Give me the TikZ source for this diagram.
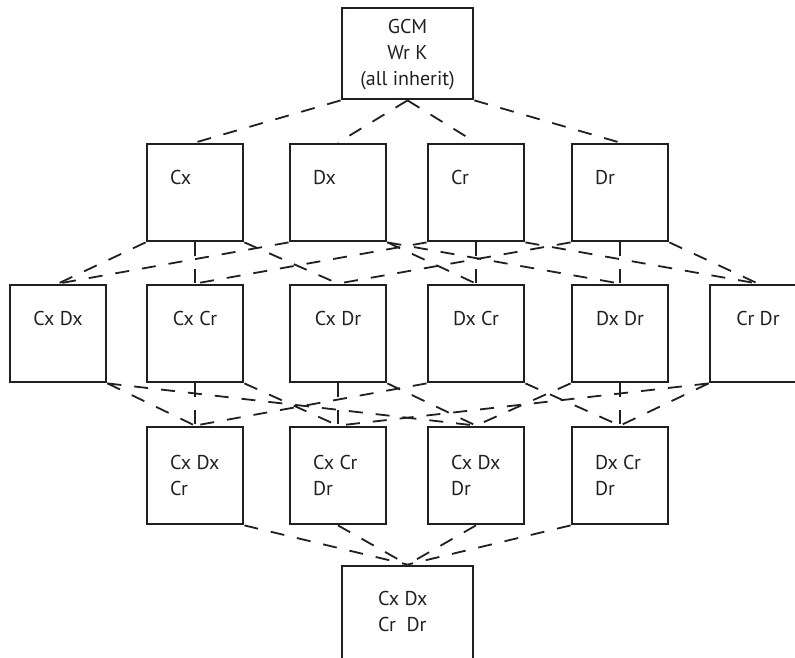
\documentclass[tikz,border=0pt]{standalone}
\usepackage{fontspec}
\setmainfont{PT Sans}
\begin{document}
\begin{tikzpicture}[x=1pt,y=1pt,
  setBox/.style={draw=drawColor,line width=2.8pt,rectangle,inner sep=0pt,
    minimum width=96pt,minimum height=97pt},
  wideBox/.style={setBox,minimum width=131pt,minimum height=91pt},
  setText/.style={text=drawColor,inner sep=0pt,outer sep=0pt,font=\fontsize{20}{26}\selectfont,align=left},
  subLink/.style={draw=drawColor,line width=1.8pt,dash pattern=on 14pt off 13pt}]
\definecolor{fillColor}{RGB}{255,255,255}
\definecolor{drawColor}{RGB}{35,31,32}
\path[use as bounding box,fill=fillColor] (0,0) rectangle (795,657);
\begin{scope}
\path[clip] (0,0) rectangle (795,657);

% boxes, top to bottom
\node[wideBox] (gcm) at (407.5,603.5) {};

\node[setBox] (cx) at (195,464.5) {};
\node[setBox] (dx) at (338,464.5) {};
\node[setBox] (cr) at (476,464.5) {};
\node[setBox] (dr) at (620,464.5) {};

\node[setBox] (cxdx) at ( 58,323.5) {};
\node[setBox] (cxcr) at (195,323.5) {};
\node[setBox] (cxdr) at (338,323.5) {};
\node[setBox] (dxcr) at (476,323.5) {};
\node[setBox] (dxdr) at (620,323.5) {};
\node[setBox] (crdr) at (758,323.5) {};

\node[setBox] (cxdxcr) at (195,181.5) {};
\node[setBox] (cxcrdr) at (338,181.5) {};
\node[setBox] (cxdxdr) at (476,181.5) {};
\node[setBox] (dxcrdr) at (620,181.5) {};

\node[wideBox,minimum height=96pt] (all) at (407.5,43) {};

% texts (base of a stacked text is its last line)
\node[setText,anchor=base,align=center] (gcm-txt) at (407.5,571) {GCM\\Wr K\\(all inherit)};

\node[setText,anchor=base west] (cx-txt) at (170,472) {Cx};
\node[setText,anchor=base west] (dx-txt) at (313,472) {Dx};
\node[setText,anchor=base west] (cr-txt) at (451,472) {Cr};
\node[setText,anchor=base west] (dr-txt) at (595,472) {Dr};

\node[setText,anchor=base] (cxdx-txt) at ( 58,332) {Cx Dx};
\node[setText,anchor=base] (cxcr-txt) at (195,332) {Cx Cr};
\node[setText,anchor=base] (cxdr-txt) at (338,332) {Cx Dr};
\node[setText,anchor=base] (dxcr-txt) at (476,332) {Dx Cr};
\node[setText,anchor=base] (dxdr-txt) at (620,332) {Dx Dr};
\node[setText,anchor=base] (crdr-txt) at (758,332) {Cr Dr};

\node[setText,anchor=base west] (cxdxcr-txt) at (170,162) {Cx Dx\\Cr};
\node[setText,anchor=base west] (cxcrdr-txt) at (313,162) {Cx Cr\\Dr};
\node[setText,anchor=base west] (cxdxdr-txt) at (451,162) {Cx Dx\\Dr};
\node[setText,anchor=base west] (dxcrdr-txt) at (595,162) {Dx Cr\\Dr};

\node[setText,anchor=base west] (all-txt) at (378,26) {Cx Dx\\Cr~~Dr};

% links between levels
\path[subLink] (gcm.south west) -- (cx.north);
\path[subLink] (gcm.south) -- (dx.north);
\path[subLink] (gcm.south) -- (cr.north);
\path[subLink] (gcm.south east) -- (dr.north);

\path[subLink] (cx.south west) -- (cxdx.north);
\path[subLink] (cx.south) -- (cxcr.north);
\path[subLink] (cx.south east) -- (cxdr.north);
\path[subLink] (dx.south west) -- (cxdx.north);
\path[subLink] (dx.south east) -- (dxcr.north);
\path[subLink] (dx.south east) -- (dxdr.north);
\path[subLink] (cr.south west) -- (cxcr.north);
\path[subLink] (cr.south) -- (dxcr.north);
\path[subLink] (cr.south east) -- (crdr.north);
\path[subLink] (dr.south west) -- (cxdr.north);
\path[subLink] (dr.south) -- (dxdr.north);
\path[subLink] (dr.south east) -- (crdr.north);

\path[subLink] (cxdx.south east) -- (cxdxcr.north);
\path[subLink] (cxdx.south east) -- (cxdxdr.north);
\path[subLink] (cxcr.south) -- (cxdxcr.north);
\path[subLink] (cxcr.south east) -- (cxcrdr.north);
\path[subLink] (cxdr.south) -- (cxcrdr.north);
\path[subLink] (cxdr.south east) -- (cxdxdr.north);
\path[subLink] (dxcr.south west) -- (cxdxcr.north);
\path[subLink] (dxcr.south east) -- (dxcrdr.north);
\path[subLink] (dxdr.south west) -- (cxdxdr.north);
\path[subLink] (dxdr.south) -- (dxcrdr.north);
\path[subLink] (crdr.south west) -- (cxcrdr.north);
\path[subLink] (crdr.south west) -- (dxcrdr.north);

\path[subLink] (cxdxcr.south east) -- (all.north);
\path[subLink] (cxcrdr.south) -- (all.north);
\path[subLink] (cxdxdr.south) -- (all.north);
\path[subLink] (dxcrdr.south west) -- (all.north);
\end{scope}
\end{tikzpicture}
\end{document}
